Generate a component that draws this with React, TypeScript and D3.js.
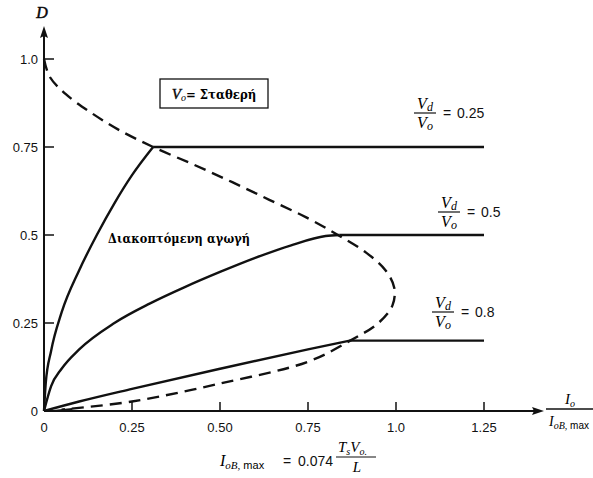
import React, { Component } from 'react';
import * as d3 from 'd3';

// axis ticks
const ioTicks = [0, 0.25, 0.5, 0.75, 1.0, 1.25];
const ioTickLabels = ['0', '0.25', '0.50', '0.75', '1.0', '1.25'];
const dTicks = [0, 0.25, 0.5, 0.75, 1.0];
const dTickLabels = ['0', '0.25', '0.5', '0.75', '1.0'];

// boundary between continuous / discontinuous conduction (dashed) [Io/IoB,max, D]
const boundary: [number, number][] = [
    [0.0, 1.0], [0.016, 0.95], [0.062, 0.9], [0.13, 0.85], [0.21, 0.8], [0.31, 0.75],
    [0.425, 0.7], [0.535, 0.65], [0.64, 0.6], [0.745, 0.55], [0.835, 0.5], [0.915, 0.45],
    [0.97, 0.4], [0.995, 0.35], [0.99, 0.3], [0.95, 0.25], [0.87, 0.2], [0.75, 0.14],
    [0.5, 0.078], [0.25, 0.027], [0.05, 0.004]
];

// Vd/Vo = 0.25, 0.5, 0.8 curves (last point = end of the flat part)
const ratios = ['0.25', '0.5', '0.8'];
const curve025: [number, number][] = [
    [0, 0], [0.005, 0.08], [0.02, 0.17], [0.05, 0.28], [0.1, 0.4], [0.15, 0.5],
    [0.2, 0.59], [0.25, 0.67], [0.31, 0.75], [1.25, 0.75]
];
const curve05: [number, number][] = [
    [0, 0], [0.02, 0.07], [0.05, 0.12], [0.1, 0.175], [0.2, 0.25], [0.3, 0.305],
    [0.4, 0.352], [0.5, 0.395], [0.6, 0.435], [0.7, 0.47], [0.8, 0.497], [0.84, 0.5], [1.25, 0.5]
];
const curve08: [number, number][] = [
    [0, 0], [0.1, 0.027], [0.25, 0.063], [0.5, 0.12], [0.75, 0.175], [0.87, 0.2], [1.25, 0.2]
];

class DutyCycleChart extends Component {
    svgRef = React.createRef<SVGSVGElement>();
    width = 593;
    height = 478;

    componentDidMount() {
        this.draw();
    }

    draw() {
        const svg = d3.select(this.svgRef.current);
        svg.selectAll('*').remove();

        const x = d3.scaleLinear().domain([0, 1.25]).range([44, 484]);
        const y = d3.scaleLinear().domain([0, 1]).range([411, 59]);
        const sans = "'Liberation Sans', Arial, sans-serif";
        const serif = "'Liberation Serif', 'Times New Roman', serif";
        const greek = "'DejaVu Serif Condensed', 'DejaVu Serif', serif";
        const ink = '#111';

        // axes
        svg.append('line').attr('x1', x(0)).attr('y1', y(0)).attr('x2', 536).attr('y2', y(0))
            .attr('stroke', ink).attr('stroke-width', 2);
        svg.append('line').attr('x1', x(0)).attr('y1', y(0)).attr('x2', x(0)).attr('y2', 34)
            .attr('stroke', ink).attr('stroke-width', 2);
        svg.append('path').attr('d', `M544,${y(0)} L532,${y(0) - 4} L534,${y(0)} L532,${y(0) + 4} Z`).attr('fill', ink);
        svg.append('path').attr('d', `M${x(0)},26 L${x(0) - 4},38 L${x(0)},36 L${x(0) + 4},38 Z`).attr('fill', ink);

        svg.selectAll('.xtick').data(ioTicks.slice(1)).enter().append('line')
            .attr('x1', d => x(d)).attr('x2', d => x(d)).attr('y1', y(0)).attr('y2', y(0) - 9)
            .attr('stroke', ink).attr('stroke-width', 1.5);
        svg.selectAll('.ytick').data(dTicks.slice(1)).enter().append('line')
            .attr('x1', x(0)).attr('x2', x(0) + 10).attr('y1', d => y(d)).attr('y2', d => y(d))
            .attr('stroke', ink).attr('stroke-width', 1.5);

        svg.selectAll('.xlabel').data(ioTicks).enter().append('text')
            .attr('x', d => x(d)).attr('y', 432).attr('text-anchor', 'middle')
            .attr('font-family', sans).attr('font-size', 13).attr('fill', ink)
            .text((d, i) => ioTickLabels[i]);
        svg.selectAll('.ylabel').data(dTicks).enter().append('text')
            .attr('x', 38).attr('y', d => y(d) + 5).attr('text-anchor', 'end')
            .attr('font-family', sans).attr('font-size', 13).attr('fill', ink)
            .text((d, i) => dTickLabels[i]);

        svg.append('text').attr('x', 42).attr('y', 18).attr('text-anchor', 'middle')
            .attr('font-family', serif).attr('font-style', 'italic')
            .attr('stroke', ink).attr('stroke-width', 0.5)
            .attr('font-size', 16).text('D');

        // x-axis label fraction Io / IoB,max
        svg.append('text').attr('x', 570).attr('y', 404).attr('text-anchor', 'middle')
            .attr('font-family', serif).attr('font-style', 'italic').attr('font-size', 15)
            .call(t => { t.append('tspan').text('I'); t.append('tspan').attr('font-size', 10).attr('dy', 3).text('o'); });
        svg.append('line').attr('x1', 546).attr('x2', 600).attr('y1', 409).attr('y2', 409)
            .attr('stroke', ink).attr('stroke-width', 1.3);
        svg.append('text').attr('x', 549).attr('y', 426)
            .attr('font-family', serif).attr('font-style', 'italic').attr('font-size', 14)
            .call(t => {
                t.append('tspan').text('I');
                t.append('tspan').attr('font-size', 10).attr('dy', 3).text('oB,');
                t.append('tspan').attr('font-size', 10).attr('font-style', 'normal').attr('font-family', sans).text(' max');
            });

        const line = d3.line<[number, number]>().x(d => x(d[0])).y(d => y(d[1])).curve(d3.curveCatmullRom.alpha(0.5));
        const mono = d3.line<[number, number]>().x(d => x(d[0])).y(d => y(d[1])).curve(d3.curveMonotoneX);
        const straight = d3.line<[number, number]>().x(d => x(d[0])).y(d => y(d[1]));

        // solid curves: curved part then flat continuous-conduction part
        [curve025, curve05, curve08].forEach(c => {
            const n = c.length;
            svg.append('path').attr('d', mono(c.slice(0, n - 1))).attr('fill', 'none')
                .attr('stroke', ink).attr('stroke-width', 2.4);
            svg.append('path').attr('d', straight(c.slice(n - 2))).attr('fill', 'none')
                .attr('stroke', ink).attr('stroke-width', 2.4);
        });

        svg.append('path').attr('d', line(boundary)).attr('fill', 'none')
            .attr('stroke', ink).attr('stroke-width', 2.4).attr('stroke-dasharray', '12,7');

        // wedge at the origin
        svg.append('path').attr('d', `M${x(0)},${y(0)} L${x(0.08)},${y(0) - 3} L${x(0.08)},${y(0)} Z`).attr('fill', ink);

        // Vd/Vo labels
        const labelPos = [[425, 113], [449, 212], [443, 312]];
        ratios.forEach((r, i) => {
            const [cx, cy] = labelPos[i];
            const g = svg.append('g');
            g.append('text').attr('x', cx).attr('y', cy - 4).attr('text-anchor', 'middle')
                .attr('font-family', serif).attr('font-style', 'italic').attr('font-size', 16)
                .call(t => { t.append('tspan').text('V'); t.append('tspan').attr('font-size', 12).attr('dy', 2).text('d'); });
            g.append('line').attr('x1', cx - 11).attr('x2', cx + 11).attr('y1', cy).attr('y2', cy)
                .attr('stroke', ink).attr('stroke-width', 1.2);
            g.append('text').attr('x', cx).attr('y', cy + 15).attr('text-anchor', 'middle')
                .attr('font-family', serif).attr('font-style', 'italic').attr('font-size', 16)
                .call(t => { t.append('tspan').text('V'); t.append('tspan').attr('font-size', 12).attr('dy', 2).text('o'); });
            g.append('text').attr('x', cx + 18).attr('y', cy + 5)
                .attr('font-family', sans).attr('font-size', 14).attr('fill', ink).text('=');
            g.append('text').attr('x', cx + 32).attr('y', cy + 5)
                .attr('font-family', sans).attr('font-size', 14).attr('fill', ink).text(r);
        });

        // Vo = constant box
        svg.append('rect').attr('x', 160).attr('y', 79).attr('width', 108).attr('height', 29)
            .attr('fill', 'none').attr('stroke', ink).attr('stroke-width', 1.3);
        svg.append('text').attr('x', 214).attr('y', 99).attr('text-anchor', 'middle')
            .attr('font-family', greek).attr('font-size', 13).attr('font-weight', 'bold')
            .call(t => {
                t.append('tspan').attr('font-family', serif).attr('font-size', 15).attr('font-style', 'italic').attr('font-weight', 'normal').attr('stroke', ink).attr('stroke-width', 0.4).text('V');
                t.append('tspan').attr('font-family', serif).attr('font-style', 'italic').attr('font-weight', 'normal').attr('font-size', 10).attr('dy', 2).text('o');
                t.append('tspan').attr('dy', -2).text('= Σταθερή');
            });

        svg.append('text').attr('x', 108).attr('y', 243)
            .attr('font-family', greek).attr('font-size', 12.5).attr('font-weight', 'bold')
            .attr('textLength', 142)
            .text('Διακοπτόμενη αγωγή');

        // IoB,max formula
        const f = svg.append('text').attr('x', 220).attr('y', 466)
            .attr('font-family', serif).attr('font-style', 'italic').attr('font-size', 16);
        f.append('tspan').text('I');
        f.append('tspan').attr('font-size', 11).attr('dy', 3).text('oB,');
        f.append('tspan').attr('font-size', 11).attr('font-style', 'normal').attr('font-family', sans).text(' max');
        svg.append('text').attr('x', 283).attr('y', 466)
            .attr('font-family', sans).attr('font-size', 14).attr('fill', ink).text('=');
        svg.append('text').attr('x', 298).attr('y', 466)
            .attr('font-family', sans).attr('font-size', 14).attr('fill', ink).text('0.074');
        svg.append('text').attr('x', 338).attr('y', 452)
            .attr('font-family', serif).attr('font-style', 'italic').attr('font-size', 15)
            .call(t => {
                t.append('tspan').text('T');
                t.append('tspan').attr('font-size', 10).attr('dy', 3).text('s');
                t.append('tspan').attr('dy', -3).text('V');
                t.append('tspan').attr('font-size', 10).attr('dy', 3).text('o.');
            });
        svg.append('line').attr('x1', 336).attr('x2', 376).attr('y1', 457).attr('y2', 457)
            .attr('stroke', ink).attr('stroke-width', 1.2);
        svg.append('text').attr('x', 357).attr('y', 472).attr('text-anchor', 'middle')
            .attr('font-family', serif).attr('font-style', 'italic').attr('font-size', 15).text('L');
    }

    render() {
        return (
            <svg ref={this.svgRef} width={this.width} height={this.height}
                style={{ position: 'absolute', left: 0, top: 0, background: '#fff' }}></svg>
        );
    }
}

export default function App() {
    return <DutyCycleChart />;
}
